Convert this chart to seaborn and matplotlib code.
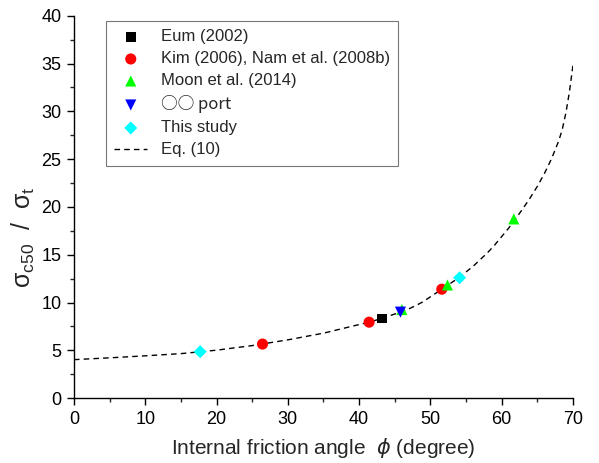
import seaborn as sns
import matplotlib.pyplot as plt
import matplotlib.ticker as mticker
import pandas as pd

sns.set_theme(style="ticks")
plt.rcParams['font.family'] = ['Liberation Sans', 'DejaVu Sans']
plt.rcParams['mathtext.fontset'] = 'dejavusans'
plt.rcParams['mathtext.default'] = 'regular'

# Eq. (10) curve
eq_phi = [0, 5, 10, 15, 20, 25, 30, 35, 40, 41, 42, 43, 44, 45, 46, 47, 48,
          49, 50, 51, 52, 53, 54, 55, 56, 57, 58, 59, 60, 61, 62, 63, 64,
          65, 66, 67, 68, 68.5, 69, 69.5, 70]
eq_ratio = [4.03, 4.22, 4.43, 4.66, 5.02, 5.5, 6.1, 6.8, 7.7, 7.87, 8.08,
            8.3, 8.55, 8.8, 9.05, 9.35, 9.7, 10.1, 10.6, 11.1, 11.6, 12.1,
            12.6, 13.2, 13.8, 14.5, 15.2, 16.0, 16.9, 17.8, 18.8, 19.85,
            20.95, 22.15, 23.5, 25.05, 26.9, 28.1, 29.8, 32.0, 34.8]

# measured points
eum_phi = [43.2]
eum_ratio = [8.33]
kim_phi = [26.45, 41.4, 51.6]
kim_ratio = [5.66, 7.95, 11.4]
moon_phi = [46.0, 52.4, 61.7]
moon_ratio = [9.27, 11.84, 18.75]
port_phi = [45.8]
port_ratio = [9.0]
study_phi = [17.7, 54.1]
study_ratio = [4.86, 12.6]

groups = [
    ("Eum (2002)", eum_phi, eum_ratio, "s", "black", 48),
    ("Kim (2006), Nam et al. (2008b)", kim_phi, kim_ratio, "o", "#ff0000", 64),
    ("Moon et al. (2014)", moon_phi, moon_ratio, "^", "#00ff00", 64),
    ("\u25cb\u25cb port", port_phi, port_ratio, "v", "#0000ff", 64),
    ("This study", study_phi, study_ratio, "D", "#00ffff", 44),
]

fig = plt.figure(figsize=(5.99, 4.63), dpi=100)
ax = fig.add_axes([0.1235, 0.14, 0.833, 0.826])

eq = pd.DataFrame({"phi": eq_phi, "ratio": eq_ratio})
sns.lineplot(data=eq, x="phi", y="ratio", ax=ax, color="black",
             linestyle=(0, (4, 3)), linewidth=1.0, label="Eq. (10)", zorder=1)

for name, xs, ys, mk, col, sz in groups:
    d = pd.DataFrame({"phi": xs, "ratio": ys})
    sns.scatterplot(data=d, x="phi", y="ratio", ax=ax, marker=mk, color=col,
                    s=sz, edgecolor="none", label=name, zorder=3)

ax.set_xlim(0, 70)
ax.set_ylim(0, 40)
ax.xaxis.set_major_locator(mticker.MultipleLocator(10))
ax.xaxis.set_minor_locator(mticker.MultipleLocator(5))
ax.yaxis.set_major_locator(mticker.MultipleLocator(5))
ax.yaxis.set_minor_locator(mticker.MultipleLocator(2.5))
ax.tick_params(which="major", direction="out", length=5, width=1.0,
               labelsize=13, colors="black", pad=4)
ax.tick_params(which="minor", direction="out", length=3, width=1.0)
sns.despine(ax=ax)
for sp in ["left", "bottom"]:
    ax.spines[sp].set_color("black")
    ax.spines[sp].set_linewidth(1.0)

ax.set_xlabel("Internal friction angle  $\\mathit{\\phi}$ (degree)",
              fontsize=15, labelpad=6)
ax.set_ylabel("$\\sigma_{c50}$  /  $\\sigma_t$", fontsize=18)
ax.yaxis.set_label_coords(-0.075, 0.42)

handles, labels = ax.get_legend_handles_labels()
order = [1, 2, 3, 4, 5, 0]
leg = ax.legend([handles[i] for i in order], [labels[i] for i in order],
                loc="upper left", bbox_to_anchor=(0.047, 1.008), fontsize=12,
                frameon=True, fancybox=False, edgecolor="#555555",
                handlelength=2.0, handletextpad=0.8, labelspacing=0.42,
                borderpad=0.5)
leg.get_frame().set_linewidth(0.8)
leg.get_texts()[3].set_family(['Noto Sans CJK KR', 'Liberation Sans'])

fig.savefig("out.png", dpi=100)
